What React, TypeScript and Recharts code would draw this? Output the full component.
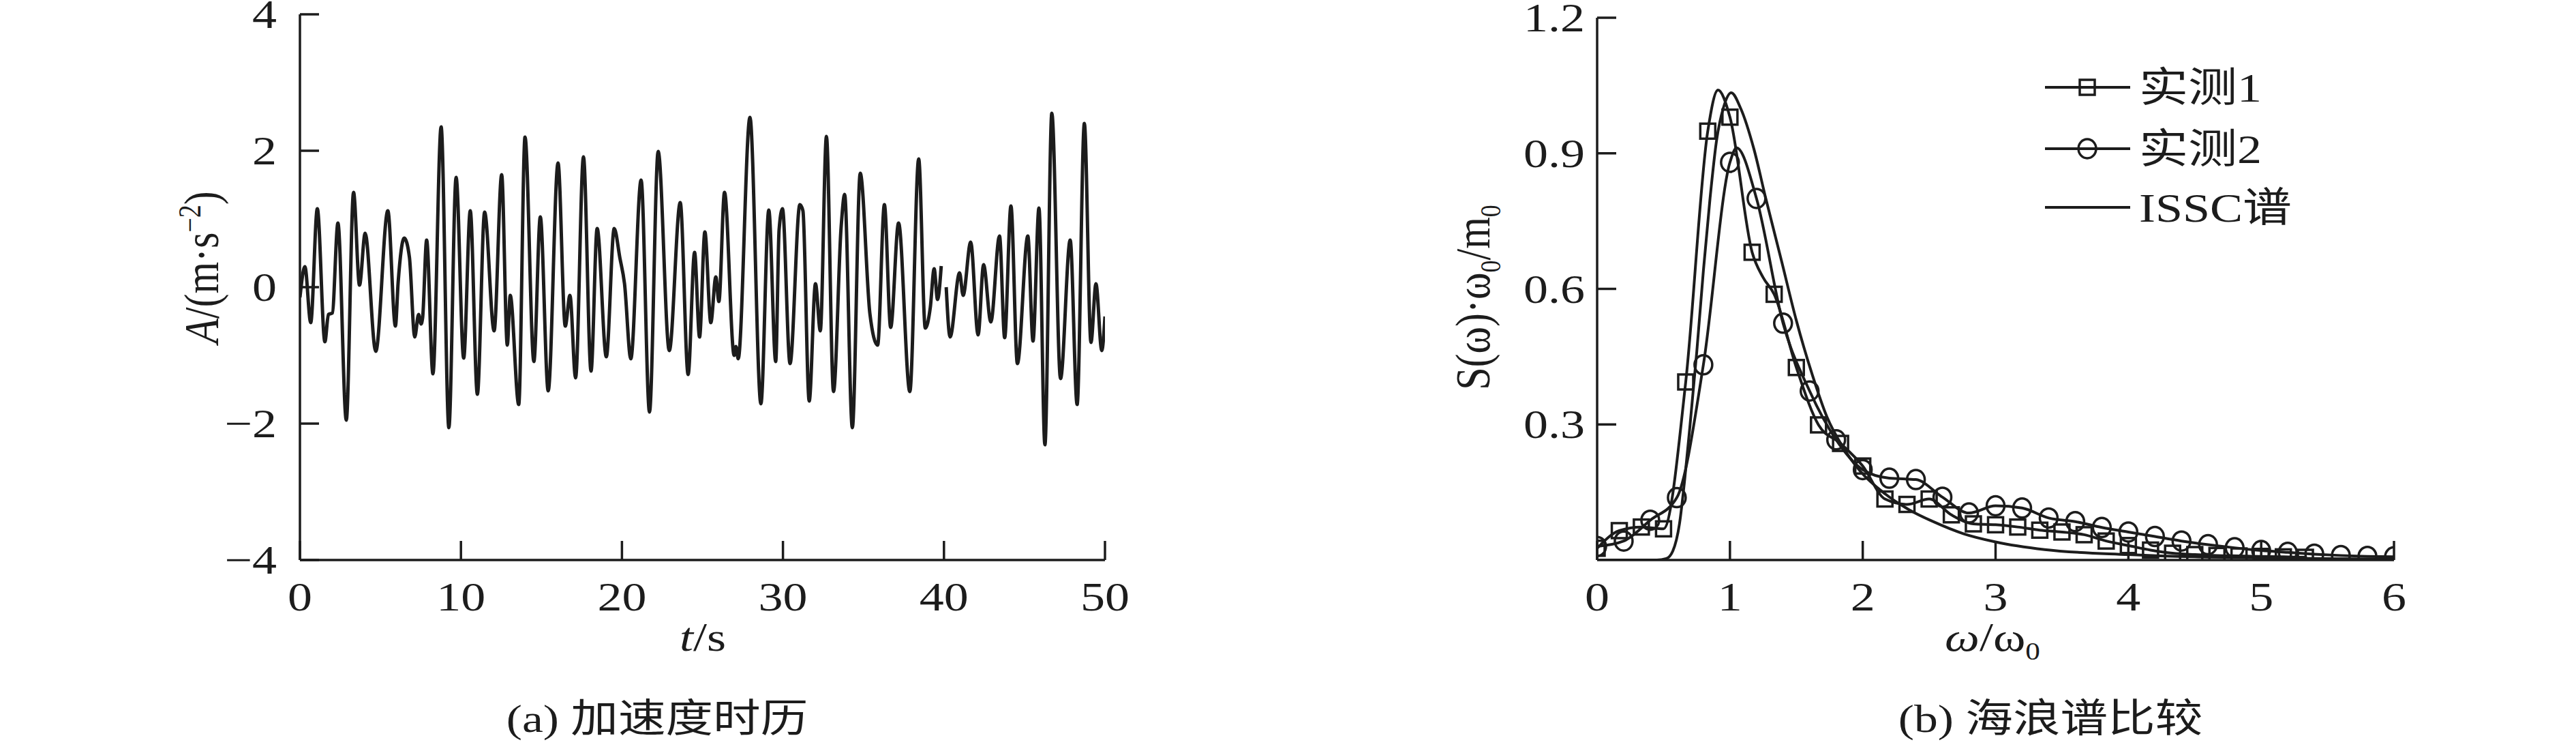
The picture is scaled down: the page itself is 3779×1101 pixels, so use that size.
import React from "react";
import { LineChart, Line, XAxis, YAxis } from "recharts";

const INK = "#1c1c1c";
const SERIF = '"Liberation Serif", "Times New Roman", "Noto Sans CJK SC", serif';
const SX = 1.2;
const FS = 60;

// ---------------- (a) acceleration time history ----------------
const timeS: number[] = [
  0.0, 0.31, 0.67, 1.08, 1.55, 1.77, 2.01, 2.36, 2.88, 3.33, 3.7, 4.05, 4.71, 5.46, 5.93, 6.1, 6.48, 6.8,
  7.13, 7.37, 7.52, 7.62, 7.87, 8.26, 8.77, 9.25, 9.7, 10.17, 10.58, 11.02, 11.47, 12.06, 12.53, 12.88,
  13.06, 13.59, 13.98, 14.53, 14.93, 15.42, 16.03, 16.48, 16.77, 17.12, 17.61, 18.08, 18.46, 19.03, 19.52,
  19.87, 20.16, 20.55, 21.19, 21.71, 22.25, 22.94, 23.62, 24.11, 24.51, 24.82, 25.15, 25.52, 25.83, 26.02,
  26.37, 26.97, 27.08, 27.22, 27.95, 28.63, 29.12, 29.55, 29.76, 29.97, 30.44, 31.05, 31.24, 31.63, 32.02,
  32.32, 32.7, 33.14, 33.61, 33.83, 34.31, 34.8, 35.4, 35.88, 36.3, 36.69, 37.18, 37.88, 38.43, 38.84,
  39.15, 39.39, 39.6, 39.83, 40.0, 40.14, 40.38, 40.97, 41.19, 41.66, 42.12, 42.46, 42.91, 43.45, 43.77,
  44.16, 44.56, 45.21, 45.53, 45.9, 46.27, 46.7, 47.24, 47.84, 48.27, 48.72, 49.13, 49.44, 49.8, 50.0,
];
const accelA: (number | null)[] = [
  -0.15, 0.3, -0.52, 1.15, -0.8, -0.4, -0.38, 0.94, -1.95, 1.39, 0.03, 0.79, -0.94, 1.12, -0.57, 0.07, 0.72, 0.44,
  -0.73, -0.4, -0.54, -0.45, 0.69, -1.27, 2.35, -2.06, 1.61, -1.04, 1.12, -1.57, 1.1, -0.64, 1.65, -0.85,
  -0.12, -1.72, 2.2, -1.09, 1.03, -1.52, 1.82, -0.57, -0.12, -1.33, 1.91, -1.23, 0.86, -1.02, 0.86,
  0.43, 0.05, -1.05, 1.57, -1.83, 1.99, -0.93, 1.24, -1.28, 0.51, -0.73, 0.81, -0.52, 0.15, -0.21,
  1.39, -1.0, -0.87, -1.05, 2.49, -1.71, 1.13, -1.09, 0.84, 1.15, -1.12, 1.21, 1.12, -1.67, 0.05,
  -0.64, 2.21, -1.53, 0.87, 1.36, -2.06, 1.67, -0.39, -0.85, 1.21, -0.59, 0.94, -1.53, 1.88, -0.6,
  -0.3, 0.27, -0.18, 0.31, null, 0.0, -0.73, 0.21, -0.12, 0.66, -0.7, 0.33, -0.51, 0.75, -0.74,
  1.19, -1.12, 0.75, -0.79, 1.16, -2.31, 2.55, -1.34, 0.69, -1.72, 2.4, -0.81, 0.05, -0.93, -0.43,
];
const tTicks = [0, 10, 20, 30, 40, 50];
const aTicks = [-4, -2, 0, 2, 4];

// ---------------- (b) wave spectrum comparison ----------------
// 实测1 markers
const omegaM1: number[] = [
  0.0, 0.167, 0.333, 0.5, 0.667, 0.833, 1.0, 1.167, 1.333, 1.5, 1.667, 1.833, 2.0, 2.167, 2.333, 2.5, 2.667,
  2.833, 3.0, 3.167, 3.333, 3.5, 3.667, 3.833, 4.0, 4.167, 4.333, 4.5, 4.667, 4.833, 5.0, 5.167, 5.333,
];
const specM1: number[] = [
  0.026, 0.065, 0.073, 0.069, 0.394, 0.949, 0.98, 0.681, 0.588, 0.426, 0.299, 0.258, 0.208, 0.135, 0.123, 0.135, 0.1,
  0.08, 0.078, 0.073, 0.066, 0.062, 0.056, 0.042, 0.032, 0.022, 0.015, 0.012, 0.01, 0.009, 0.008, 0.007, 0.006,
];
// 实测1 curve
const omegaM1Line: number[] = [
  0.0, 0.167, 0.333, 0.5, 0.667, 0.833, 0.91, 1.0, 1.167, 1.25, 1.333, 1.5, 1.667, 1.833, 2.0, 2.167, 2.333, 2.5,
  2.667, 2.833, 3.0, 3.167, 3.333, 3.5, 3.667, 3.833, 4.0, 4.167, 4.333, 4.5, 4.667, 4.833, 5.0, 5.167, 5.333,
];
const specM1Line: number[] = [
  0.026, 0.065, 0.073, 0.069, 0.394, 0.949, 1.04, 0.98, 0.681, 0.625, 0.588, 0.426, 0.299, 0.258, 0.208, 0.135, 0.123, 0.135,
  0.1, 0.08, 0.078, 0.073, 0.066, 0.062, 0.056, 0.042, 0.032, 0.022, 0.015, 0.012, 0.01, 0.009, 0.008, 0.007, 0.006,
];
// 实测2 markers
const omegaM2: number[] = [
  0.0, 0.2, 0.4, 0.6, 0.8, 1.0, 1.2, 1.4, 1.6, 1.8, 2.0, 2.2, 2.4, 2.6, 2.8, 3.0, 3.2, 3.4, 3.6, 3.8, 4.0, 4.2,
  4.4, 4.6, 4.8, 5.0, 5.2, 5.4, 5.6, 5.8, 6.0,
];
const specM2: number[] = [
  0.03, 0.042, 0.088, 0.138, 0.432, 0.88, 0.8, 0.524, 0.374, 0.266, 0.2, 0.181, 0.178, 0.139, 0.104, 0.12, 0.115,
  0.093, 0.085, 0.072, 0.062, 0.052, 0.042, 0.034, 0.027, 0.021, 0.017, 0.013, 0.01, 0.008, 0.007,
];
// 实测2 curve
const omegaM2Line: number[] = [
  0.0, 0.2, 0.4, 0.6, 0.8, 1.0, 1.05, 1.2, 1.4, 1.6, 1.8, 2.0, 2.2, 2.4, 2.6, 2.8, 3.0, 3.2, 3.4, 3.6, 3.8, 4.0,
  4.2, 4.4, 4.6, 4.8, 5.0, 5.2, 5.4, 5.6, 5.8, 6.0,
];
const specM2Line: number[] = [
  0.03, 0.042, 0.088, 0.138, 0.432, 0.88, 0.912, 0.8, 0.524, 0.374, 0.266, 0.2, 0.181, 0.178, 0.139, 0.104, 0.12, 0.115,
  0.093, 0.085, 0.072, 0.062, 0.052, 0.042, 0.034, 0.027, 0.021, 0.017, 0.013, 0.01, 0.008, 0.007,
];
// ISSC spectrum curve
const omegaISSC: number[] = [
  0.0, 0.45, 0.52, 0.57, 0.62, 0.66, 0.7, 0.75, 0.8, 0.85, 0.9, 0.95, 1.01, 1.08, 1.18, 1.27, 1.39, 1.5, 1.62,
  1.73, 1.85, 1.98, 2.17, 2.35, 2.53, 2.76, 3.0, 3.37, 4.0, 4.5, 5.0, 5.5, 6.0,
];
const specISSC: number[] = [
  0.0, 0.0, 0.003, 0.02, 0.08, 0.18, 0.3, 0.46, 0.64, 0.8, 0.93, 1.0, 1.034, 1.0, 0.91, 0.8, 0.66, 0.53, 0.41,
  0.317, 0.25, 0.197, 0.146, 0.111, 0.085, 0.058, 0.04, 0.023, 0.012, 0.007, 0.005, 0.003, 0.002,
];
const wTicks = [0, 1, 2, 3, 4, 5, 6];
const sTicks = [0.3, 0.6, 0.9, 1.2];

const legendNames = ["实测1", "实测2", "ISSC谱"];

// ---------------- tables for the library ----------------
const accelData = timeS.map((t, i) => ({ t, a: accelA[i] }));
const m1Data = omegaM1.map((w, i) => ({ w, s: specM1[i] }));
const m1LineData = omegaM1Line.map((w, i) => ({ w, s: specM1Line[i] }));
const m2Data = omegaM2.map((w, i) => ({ w, s: specM2[i] }));
const m2LineData = omegaM2Line.map((w, i) => ({ w, s: specM2Line[i] }));
const isscData = omegaISSC.map((w, i) => ({ w, s: specISSC[i] }));

const fmtA = (v: number) => (v < 0 ? `\u2212${-v}` : `${v}`);
const fmtS = (v: number) => v.toFixed(1);

const makeXTick = () => (props: any) => {
  const { x, y, payload } = props;
  return (
    <g key={`xt-${payload.value}`}>
      <line x1={x} y1={y} x2={x} y2={y - 28} stroke={INK} strokeWidth={3.5} />
      <text
        transform={`translate(${x},${y + 74}) scale(${SX},1)`}
        textAnchor="middle"
        fontFamily={SERIF}
        fontSize={FS}
        fill={INK}
      >
        {payload.value}
      </text>
    </g>
  );
};

const makeYTick = (fmt: (v: number) => string, gap: number) => (props: any) => {
  const { x, y, payload } = props;
  return (
    <g key={`yt-${payload.value}`}>
      <line x1={x} y1={y} x2={x + 28} y2={y} stroke={INK} strokeWidth={3.5} />
      <text
        transform={`translate(${x - gap},${y + 20}) scale(${SX},1)`}
        textAnchor="end"
        fontFamily={SERIF}
        fontSize={FS}
        fill={INK}
      >
        {fmt(payload.value)}
      </text>
    </g>
  );
};

const SquareDot = (p: any) => {
  if (p.cx == null || p.cy == null) return <g key={`sq-${p.index}`} />;
  return (
    <rect
      key={`sq-${p.index}`}
      x={p.cx - 11}
      y={p.cy - 11}
      width={22}
      height={22}
      fill="none"
      stroke={INK}
      strokeWidth={3.5}
    />
  );
};

const CircleDot = (p: any) => {
  if (p.cx == null || p.cy == null) return <g key={`ci-${p.index}`} />;
  return <ellipse key={`ci-${p.index}`} cx={p.cx} cy={p.cy} rx={13} ry={14} fill="none" stroke={INK} strokeWidth={3.5} />;
};

const axisLine = { stroke: INK, strokeWidth: 3.5 };

const T = (props: any) => {
  const { x, y, rotate, children, size, anchor } = props;
  return (
    <text
      transform={`translate(${x},${y}) scale(${SX},1)${rotate ? " rotate(-90)" : ""}`}
      textAnchor={anchor || "middle"}
      fontFamily={SERIF}
      fontSize={size || FS}
      fill={INK}
    >
      {children}
    </text>
  );
};

export default function App() {
  return (
    <div
      style={{
        position: "absolute",
        left: 0,
        top: 0,
        width: 3779,
        height: 1101,
        background: "#ffffff",
        overflow: "hidden",
      }}
    >
      {/* (a) */}
      <div style={{ position: "absolute", left: 0, top: 0 }}>
        <LineChart width={1700} height={1101} data={accelData} margin={{ top: 21, right: 79, bottom: 220, left: 340 }}>
          <XAxis
            dataKey="t"
            type="number"
            domain={[0, 50]}
            ticks={tTicks}
            interval={0}
            height={60}
            tickSize={0}
            tickMargin={0}
            tickLine={false}
            axisLine={axisLine}
            tick={makeXTick()}
            allowDataOverflow
          />
          <YAxis
            type="number"
            domain={[-4, 4]}
            ticks={aTicks}
            interval={0}
            width={100}
            tickSize={0}
            tickMargin={0}
            tickLine={false}
            axisLine={axisLine}
            tick={makeYTick(fmtA, 34)}
            allowDataOverflow
          />
          <Line
            dataKey="a"
            type="monotone"
            stroke={INK}
            strokeWidth={5}
            dot={false}
            connectNulls={false}
            isAnimationActive={false}
          />
        </LineChart>
      </div>

      {/* (b) */}
      <div style={{ position: "absolute", left: 2000, top: 0 }}>
        <LineChart width={1600} height={1101} margin={{ top: 26, right: 88, bottom: 220, left: 243 }}>
          <XAxis
            dataKey="w"
            type="number"
            domain={[0, 6]}
            ticks={wTicks}
            interval={0}
            height={60}
            tickSize={0}
            tickMargin={0}
            tickLine={false}
            axisLine={axisLine}
            tick={makeXTick()}
            allowDataOverflow
          />
          <YAxis
            type="number"
            domain={[0, 1.2]}
            ticks={sTicks}
            interval={0}
            width={100}
            tickSize={0}
            tickMargin={0}
            tickLine={false}
            axisLine={axisLine}
            tick={makeYTick(fmtS, 18)}
            allowDataOverflow
          />
          <Line data={isscData} dataKey="s" type="monotone" stroke={INK} strokeWidth={4} dot={false} isAnimationActive={false} />
          <Line data={m1LineData} dataKey="s" type="monotone" stroke={INK} strokeWidth={4} dot={false} isAnimationActive={false} />
          <Line data={m2LineData} dataKey="s" type="monotone" stroke={INK} strokeWidth={4} dot={false} isAnimationActive={false} />
          <Line data={m1Data} dataKey="s" stroke="none" dot={SquareDot} isAnimationActive={false} />
          <Line data={m2Data} dataKey="s" stroke="none" dot={CircleDot} isAnimationActive={false} />
        </LineChart>
      </div>

      {/* titles, captions, legend */}
      <svg width={3779} height={1101} style={{ position: "absolute", left: 0, top: 0, pointerEvents: "none" }}>
        <T x={320} y={392} rotate size={60}>
          <tspan fontStyle="italic">A</tspan>
          <tspan>/(m·s</tspan>
          <tspan dy={-22} fontSize={38}>{"\u22122"}</tspan>
          <tspan dy={22}>)</tspan>
        </T>
        <T x={1031} y={954} size={60}>
          <tspan fontStyle="italic">t</tspan>
          <tspan>/s</tspan>
        </T>
        <T x={964} y={1073} size={58}>(a) 加速度时历</T>

        <T x={2185} y={436} rotate size={60}>
          <tspan>S(ω)·ω</tspan>
          <tspan dy={13} fontSize={36}>0</tspan>
          <tspan dy={-13}>/m</tspan>
          <tspan dy={13} fontSize={36}>0</tspan>
        </T>
        <T x={2923} y={954} size={60}>
          <tspan fontStyle="italic">ω</tspan>
          <tspan>/ω</tspan>
          <tspan dy={13} fontSize={36}>0</tspan>
        </T>
        <T x={3008} y={1073} size={58}>(b) 海浪谱比较</T>

        {/* legend */}
        <g>
          <line x1={3000} y1={128} x2={3125} y2={128} stroke={INK} strokeWidth={4} />
          <rect x={3051} y={117} width={22} height={22} fill="none" stroke={INK} strokeWidth={3.5} />
          <T x={3138} y={149} anchor="start" size={60}>{legendNames[0]}</T>

          <line x1={3000} y1={218} x2={3125} y2={218} stroke={INK} strokeWidth={4} />
          <ellipse cx={3062} cy={218} rx={13} ry={14} fill="none" stroke={INK} strokeWidth={3.5} />
          <T x={3138} y={239} anchor="start" size={60}>{legendNames[1]}</T>

          <line x1={3000} y1={304} x2={3125} y2={304} stroke={INK} strokeWidth={4} />
          <T x={3138} y={325} anchor="start" size={60}>{legendNames[2]}</T>
        </g>
      </svg>
    </div>
  );
}
